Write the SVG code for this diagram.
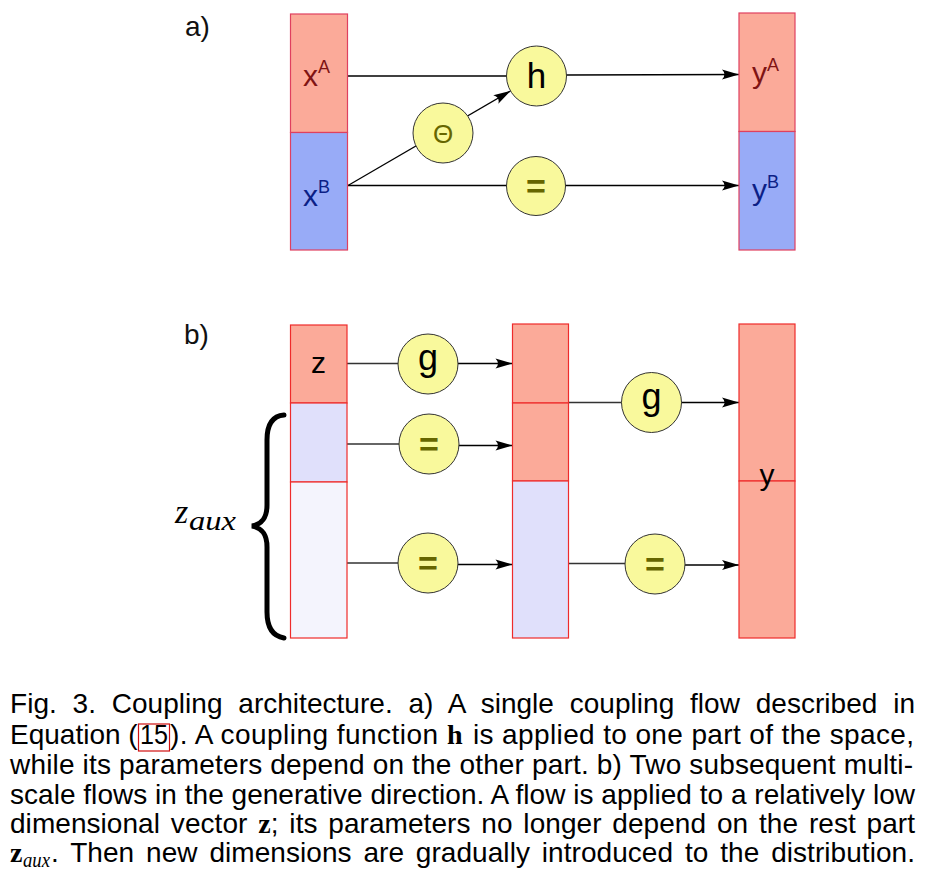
<svg xmlns="http://www.w3.org/2000/svg" width="928" height="886" viewBox="0 0 928 886">
<style>
.sa{stroke:#df405f;stroke-width:1.2}
.sb{stroke:#ee2b2b;stroke-width:1.2}
.red{fill:#fbaa99}
.blue{fill:#98abf7}
.lav{fill:#e0e0fb}
.pale{fill:#f4f4fd}
.op{fill:#f9f99c;stroke:#333;stroke-width:1}
.lbl{font-family:"Liberation Sans",Arial,sans-serif}
.olive{fill:#666600}
.ln{stroke:#000;stroke-width:1.3;fill:none}
.lg{stroke:#333;stroke-width:1.3;fill:none}
.cap{font-family:"Liberation Sans",Arial,sans-serif;font-size:28px;fill:#000}
.m{font-family:"Liberation Serif","Times New Roman",serif;font-weight:bold}
.mi{font-family:"Liberation Serif","Times New Roman",serif;font-style:italic}
</style>
<defs>
<marker id="ah" markerUnits="userSpaceOnUse" markerWidth="20" markerHeight="12" orient="auto" refX="0" refY="0" overflow="visible">
<path d="M0,0 L-17,-5 Q-12,0 -17,5 Z" fill="#000"/>
</marker>
</defs>
<rect width="928" height="886" fill="#fff"/>

<text class="lbl" x="185" y="36" font-size="28" fill="#111">a)</text>
<text class="lbl" x="184" y="344" font-size="28" fill="#111">b)</text>

<g id="connectors">
<!-- part a -->
<line class="ln" x1="348" y1="76" x2="536" y2="76"/>
<line class="ln" x1="566" y1="75" x2="739" y2="74.5" marker-end="url(#ah)"/>
<line class="ln" x1="348" y1="185.5" x2="739" y2="185.5" marker-end="url(#ah)"/>
<line class="ln" x1="348" y1="185.5" x2="510.5" y2="91" marker-end="url(#ah)"/>
<!-- part b -->
<line class="lg" x1="347" y1="363.5" x2="428" y2="363.5"/>
<line class="ln" x1="458" y1="363.5" x2="512.5" y2="363.5" marker-end="url(#ah)"/>
<line class="lg" x1="347" y1="444" x2="429" y2="444"/>
<line class="ln" x1="459" y1="445.5" x2="512.5" y2="445.5" marker-end="url(#ah)"/>
<line class="lg" x1="347" y1="563" x2="428" y2="563"/>
<line class="ln" x1="458" y1="564.5" x2="512.5" y2="564.5" marker-end="url(#ah)"/>
<line class="lg" x1="569" y1="402.5" x2="651" y2="402.5"/>
<line class="ln" x1="681" y1="402.5" x2="739" y2="402.5" marker-end="url(#ah)"/>
<line class="lg" x1="569" y1="563.5" x2="655" y2="563.5"/>
<line class="ln" x1="685" y1="565" x2="739" y2="565" marker-end="url(#ah)"/>
</g>

<!-- part a nodes -->
<g id="xA">
<rect class="red sa" x="290.5" y="14" width="57" height="118.5"/>
<text class="lbl" x="303" y="86" font-size="30" fill="#7f1414">x<tspan font-size="18" dy="-13">A</tspan></text>
</g>
<g id="xB">
<rect class="blue sa" x="290.5" y="132.5" width="57" height="117.5"/>
<text class="lbl" x="303" y="206" font-size="30" fill="#0c1f86">x<tspan font-size="18" dy="-13">B</tspan></text>
</g>
<g id="yA">
<rect class="red sa" x="739" y="13" width="56" height="118.5"/>
<text class="lbl" x="752" y="83" font-size="30" fill="#7f1414">y<tspan font-size="18" dy="-12.5">A</tspan></text>
</g>
<g id="yB">
<rect class="blue sa" x="739" y="131.5" width="56" height="118.5"/>
<text class="lbl" x="752" y="200" font-size="30" fill="#0c1f86">y<tspan font-size="18" dy="-12.5">B</tspan></text>
</g>
<g id="h">
<circle class="op" cx="536.5" cy="76" r="30"/>
<text class="lbl" x="536.5" y="88" font-size="35" text-anchor="middle" fill="#000">h</text>
</g>
<g id="theta">
<circle class="op" cx="443" cy="133" r="30"/>
<text class="lbl olive" x="443" y="143" font-size="26" text-anchor="middle">Θ</text>
</g>
<g id="eqA">
<circle class="op" cx="536" cy="186" r="29.5"/>
<text class="lbl olive" x="536" y="198" font-size="34" font-weight="bold" text-anchor="middle">=</text>
</g>

<!-- part b nodes -->
<g id="z">
<rect class="red sb" x="290.5" y="325" width="56.5" height="78"/>
<text class="lbl" x="318.5" y="373" font-size="30" text-anchor="middle" fill="#000">z</text>
</g>
<g id="zaux1">
<rect class="lav sb" x="290.5" y="403" width="56.5" height="79"/>
</g>
<g id="zaux2">
<rect class="pale sb" x="290.5" y="482" width="56.5" height="156"/>
</g>
<g id="mid1">
<rect class="red sb" x="512.5" y="324" width="56" height="79"/>
</g>
<g id="mid2">
<rect class="red sb" x="512.5" y="403" width="56" height="78"/>
</g>
<g id="mid3">
<rect class="lav sb" x="512.5" y="481" width="56" height="157"/>
</g>
<g id="y">
<rect class="red sb" x="739" y="324" width="56" height="157"/>
<rect class="red sb" x="739" y="481" width="56" height="157"/>
<text class="lbl" x="767" y="485" font-size="30" text-anchor="middle" fill="#000">y</text>
</g>
<g id="g1">
<circle class="op" cx="428" cy="364" r="30"/>
<text class="lbl" x="428" y="370" font-size="36" text-anchor="middle" fill="#000">g</text>
</g>
<g id="eq1">
<circle class="op" cx="429" cy="444" r="30"/>
<text class="lbl olive" x="429" y="456" font-size="34" font-weight="bold" text-anchor="middle">=</text>
</g>
<g id="eq2">
<circle class="op" cx="428" cy="563" r="30"/>
<text class="lbl olive" x="428" y="575" font-size="34" font-weight="bold" text-anchor="middle">=</text>
</g>
<g id="g2">
<circle class="op" cx="651.5" cy="402.5" r="30"/>
<text class="lbl" x="651.5" y="409" font-size="36" text-anchor="middle" fill="#000">g</text>
</g>
<g id="eq3">
<circle class="op" cx="655" cy="564" r="30"/>
<text class="lbl olive" x="655" y="576" font-size="34" font-weight="bold" text-anchor="middle">=</text>
</g>

<g id="brace">
<path d="M284,415 C272,416 267,425 267,440 L267,505 C267,518 262,524 252,526 C262,528 267,534 267,547 L267,612 C267,627 272,636 284,638" fill="none" stroke="#000" stroke-width="5" stroke-linecap="round"/>
<text class="mi" x="175" y="523" font-size="34" fill="#000">z</text>
<text class="mi" x="189" y="530" font-size="27" fill="#000" textLength="47" lengthAdjust="spacingAndGlyphs">aux</text>
</g>

<g id="caption">
<text class="cap" x="10" y="713" textLength="905" lengthAdjust="spacing" word-spacing="8">Fig. 3. Coupling architecture. a) A single coupling flow described in</text>
<text class="cap" x="10" y="744">Equation (</text>
<text class="cap" x="140" y="744" textLength="28" lengthAdjust="spacingAndGlyphs">15</text>
<rect x="138.5" y="724" width="31" height="27" fill="none" stroke="#d01010" stroke-width="1.2"/>
<text class="cap" x="170" y="744" textLength="268" lengthAdjust="spacing">). A coupling function</text>
<text class="cap m" x="447" y="744">h</text>
<text class="cap" x="473" y="744" textLength="441" lengthAdjust="spacing">is applied to one part of the space,</text>
<text class="cap" x="10" y="774" textLength="903" lengthAdjust="spacing">while its parameters depend on the other part. b) Two subsequent multi-</text>
<text class="cap" x="10" y="804" textLength="905" lengthAdjust="spacing">scale flows in the generative direction. A flow is applied to a relatively low</text>
<text class="cap" x="10" y="833" textLength="905" lengthAdjust="spacing" word-spacing="3">dimensional vector <tspan class="m">z</tspan>; its parameters no longer depend on the rest part</text>
<text class="cap m" x="10" y="862">z</text>
<text class="mi" x="23" y="867" font-size="20" fill="#000" textLength="27" lengthAdjust="spacingAndGlyphs">aux</text>
<text class="cap" x="51" y="862" textLength="864" lengthAdjust="spacing" word-spacing="4">. Then new dimensions are gradually introduced to the distribution.</text>
</g>
</svg>
